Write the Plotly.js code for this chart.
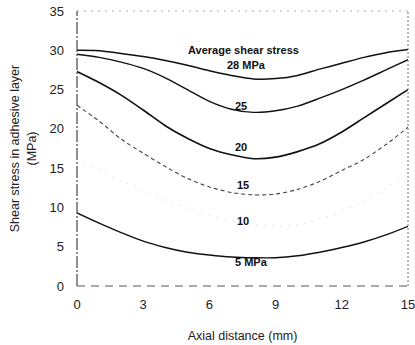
<!DOCTYPE html>
<html>
<head>
<meta charset="utf-8">
<script src="https://cdn.plot.ly/plotly-3.0.1.min.js"></script>
<style>
  html, body { margin: 0; padding: 0; background: #fff; }
  #chart { width: 415px; height: 345px; }
</style>
</head>
<body>
<div id="chart"></div>
<script>
// Axial position along the bonded joint (mm)
const axialDistance = [0, 1, 2, 3, 4, 5, 6, 7, 8, 9, 10, 11, 12, 13, 14, 15];

// Shear stress in the adhesive layer (MPa) for each average shear stress level
const stress28 = [30.0, 29.95, 29.6, 29.2, 28.7, 28.1, 27.4, 26.8, 26.35, 26.4, 26.8, 27.6, 28.35, 29.1, 29.7, 30.1];
const stress25 = [29.5, 29.1, 28.5, 27.7, 26.5, 25.0, 23.5, 22.5, 22.1, 22.3, 22.9, 23.9, 25.0, 26.2, 27.5, 28.8];
const stress20 = [27.3, 25.9, 24.3, 22.4, 20.4, 18.8, 17.5, 16.7, 16.2, 16.4, 17.1, 18.1, 19.6, 21.4, 23.2, 25.0];
const stress15 = [23.0, 21.0, 18.7, 16.9, 15.2, 13.7, 12.6, 11.9, 11.6, 11.7, 12.3, 13.3, 14.7, 16.1, 18.0, 20.2];
const stress10 = [16.2, 14.8, 13.4, 12.1, 10.9, 9.9, 9.0, 8.3, 7.8, 7.6, 7.8, 8.5, 9.6, 10.9, 12.5, 14.2];
const stress5  = [9.3, 8.0, 6.8, 5.7, 4.9, 4.3, 3.95, 3.7, 3.6, 3.6, 3.85, 4.3, 4.9, 5.6, 6.5, 7.6];

const xTicks = [0, 3, 6, 9, 12, 15];
const yTicks = [0, 5, 10, 15, 20, 25, 30, 35];

const font = 'Liberation Sans, Arial, sans-serif';

function curve(y, color, width, dash) {
  return {
    x: axialDistance, y: y, type: 'scatter', mode: 'lines',
    line: { color: color, width: width, dash: dash, shape: 'spline', smoothing: 0.8 },
    hoverinfo: 'skip', showlegend: false
  };
}

const traces = [
  curve(stress28, '#111', 1.5, 'solid'),
  curve(stress25, '#111', 1.4, 'solid'),
  curve(stress20, '#111', 1.6, 'solid'),
  curve(stress15, '#444', 1.1, '4px,3px'),
  curve(stress10, '#cfcfcf', 1.0, '1px,7px'),
  curve(stress5,  '#111', 1.4, 'solid')
];

function label(text, x, y) {
  return { x: x, y: y, xref: 'x', yref: 'y', text: text, showarrow: false,
           font: { family: font, size: 11, color: '#111', weight: 'bold' } };
}

const layout = {
  width: 415, height: 345,
  margin: { l: 77, r: 7, t: 11, b: 59 },
  paper_bgcolor: '#fff', plot_bgcolor: '#fff',
  font: { family: font, color: '#111' },
  showlegend: false,
  xaxis: {
    range: [0, 15], tickvals: xTicks, ticktext: xTicks.map(String),
    showgrid: false, zeroline: false, showline: false, ticks: '',
    ticklabeloverflow: 'allow',
    tickfont: { family: font, size: 13, color: '#222' }, ticklabelstandoff: 9,
    title: { text: 'Axial distance (mm)', font: { family: font, size: 12.5, color: '#222' }, standoff: 20 }
  },
  yaxis: {
    range: [0, 35], tickvals: yTicks, ticktext: yTicks.map(String),
    showgrid: false, zeroline: false, showline: false, ticks: '',
    ticklabeloverflow: 'allow',
    tickfont: { family: font, size: 13, color: '#222' }, ticklabelstandoff: 12,
    title: { text: 'Shear stress in adhesive layer<br>(MPa)', font: { family: font, size: 12.5, color: '#222' }, standoff: 10 }
  },
  shapes: [
    // left axis
    { type: 'line', xref: 'paper', yref: 'paper', x0: 0, x1: 0, y0: 0, y1: 1,
      line: { color: '#444', width: 1.2, dash: '12px,2px,2px,2px' } },
    // bottom axis
    { type: 'line', xref: 'paper', yref: 'paper', x0: 0, x1: 1, y0: 0, y1: 0,
      line: { color: '#555', width: 1, dash: '8px,6px' } },
    // top frame
    { type: 'line', xref: 'paper', yref: 'paper', x0: 0, x1: 1, y0: 1, y1: 1,
      line: { color: '#aaa', width: 1, dash: '2px,5px' } },
    // right frame
    { type: 'line', xref: 'paper', yref: 'paper', x0: 1, x1: 1, y0: 0, y1: 1,
      line: { color: '#777', width: 1, dash: '2px,2px' } }
  ],
  annotations: [
    label('Average shear stress', 7.55, 30.1),
    label('28 MPa', 7.7, 28.1),
    label('25', 7.45, 22.9),
    label('20', 7.45, 17.7),
    label('15', 7.5, 12.8),
    label('10', 7.5, 8.3),
    label('5 MPa', 7.9, 3.0)
  ]
};

Plotly.newPlot('chart', traces, layout, { staticPlot: true, displayModeBar: false });
</script>
</body>
</html>
